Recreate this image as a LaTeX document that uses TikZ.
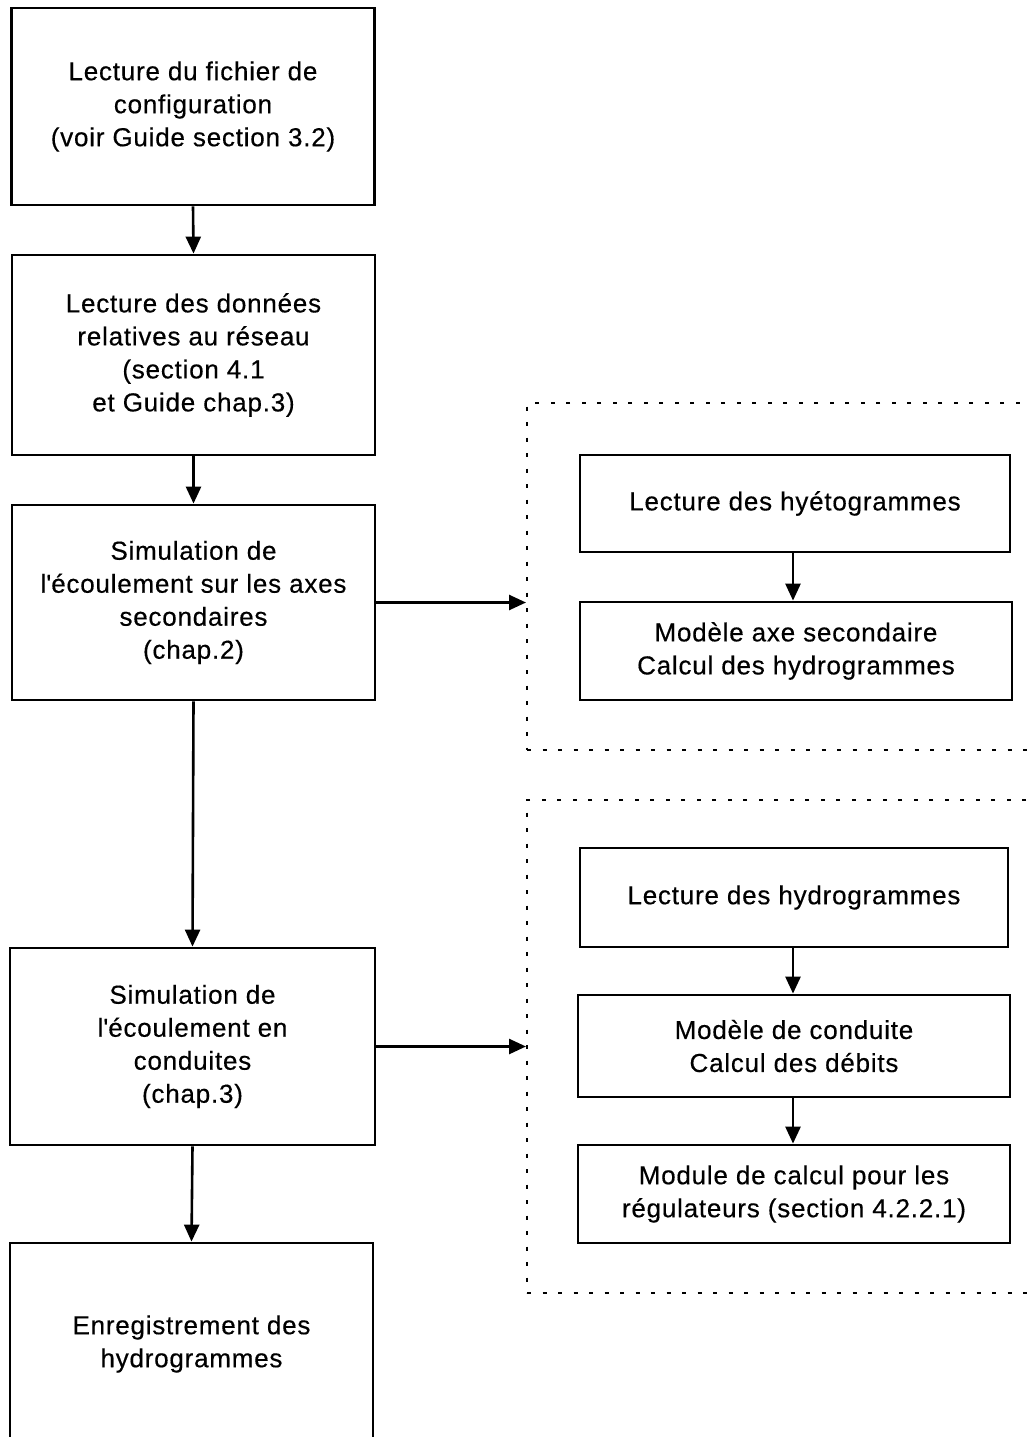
\documentclass[tikz,border=0pt]{standalone}
\usepackage{fontspec}
\setmainfont{Liberation Sans}[LetterSpace=3,FakeBold=0.4]
\usetikzlibrary{arrows.meta}
\begin{document}
\begin{tikzpicture}[x=1pt,y=-1pt,
  box/.style={draw, line width=2.8pt, rectangle, align=center, inner sep=0pt,
    font=\fontsize{26}{33}\selectfont},
  region/.style={draw, line width=2pt, dash pattern=on 4pt off 11.5pt, rectangle, inner sep=0pt},
  arr/.style={line width=2.6pt, -{Triangle[length=17pt,width=15pt]}}]
\useasboundingbox (0,0) rectangle (1027,1437);
\clip (0,0) rectangle (1027,1437);
\fill[white] (0,0) rectangle (1027,1437);
% left column
\node[box, minimum width=363pt, minimum height=197pt] (b1) at (193,106.5)
  {Lecture du fichier de\\configuration\\(voir Guide section 3.2)};
\node[box, minimum width=363pt, minimum height=200pt] (b2) at (193.5,355)
  {Lecture des données\\relatives au réseau\\(section 4.1\\et Guide chap.3)};
\node[box, minimum width=363pt, minimum height=195pt] (b3) at (193.5,602.5)
  {Simulation de\\l\textquotesingle écoulement sur les axes\\secondaires\\(chap.2)};
\node[box, minimum width=365pt, minimum height=197pt] (b4) at (192.5,1046.5)
  {Simulation de\\l\textquotesingle écoulement en\\conduites\\(chap.3)};
\node[box, minimum width=363pt, minimum height=202pt] (b5) at (191.5,1344)
  {Enregistrement des\\hydrogrammes};
% dotted regions
\node[region, minimum width=530pt, minimum height=347pt] (g1) at (792,576.5) {};
\node[region, minimum width=530pt, minimum height=493pt] (g2) at (792,1046.5) {};
% right column
\node[box, minimum width=430pt, minimum height=97pt] (r1) at (795,503.5)
  {Lecture des hyétogrammes};
\node[box, minimum width=432pt, minimum height=98pt] (r2) at (796,651)
  {Modèle axe secondaire\\Calcul des hydrogrammes};
\node[box, minimum width=428pt, minimum height=99pt] (r3) at (794,897.5)
  {Lecture des hydrogrammes};
\node[box, minimum width=432pt, minimum height=102pt] (r4) at (794,1046)
  {Modèle de conduite\\Calcul des débits};
\node[box, minimum width=432pt, minimum height=98pt] (r5) at (794,1194)
  {Module de calcul pour les\\régulateurs (section 4.2.2.1)};
% arrows
\draw[arr] (b1.south) -- (b2.north);
\draw[arr] (b2.south) -- (b3.north);
\draw[arr] (b3.south) -- (b4.north);
\draw[arr] (b4.south) -- (b5.north);
\draw[arr] (b3.east) -- (b3.east -| g1.west);
\draw[arr] (b4.east) -- (b4.east -| g2.west);
\draw[arr] (r1.south -| 793,0) -- (r2.north -| 793,0);
\draw[arr] (r3.south -| 793,0) -- (r4.north -| 793,0);
\draw[arr] (r4.south -| 793,0) -- (r5.north -| 793,0);
\end{tikzpicture}
\end{document}
